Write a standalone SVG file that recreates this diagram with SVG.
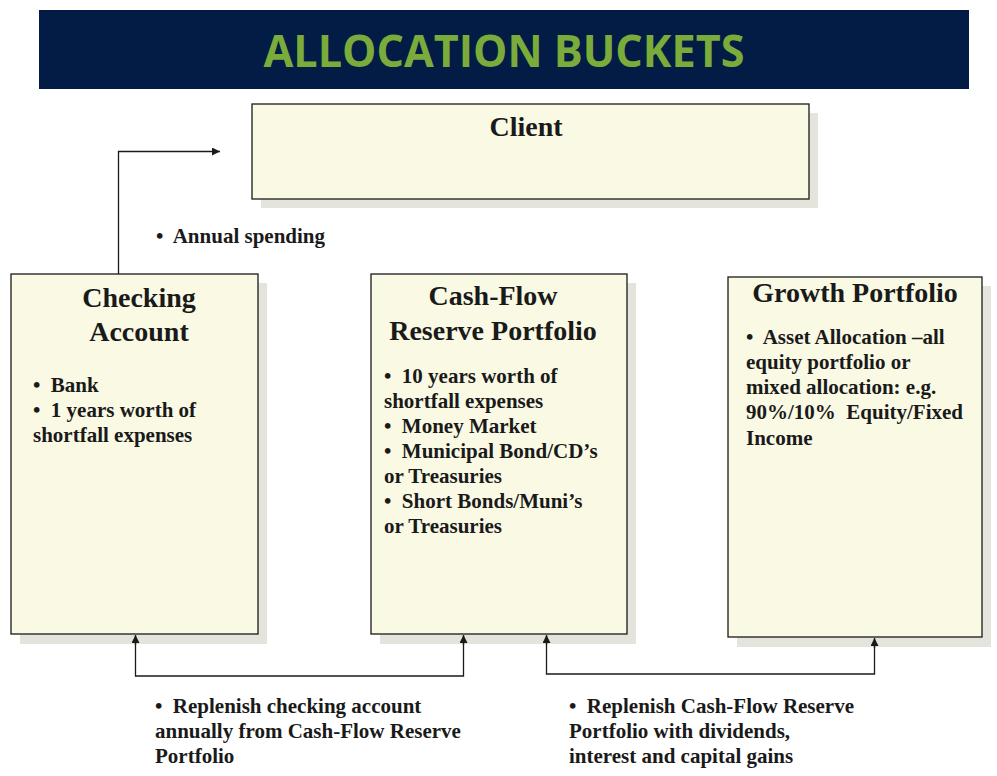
<svg xmlns="http://www.w3.org/2000/svg" width="997" height="776" viewBox="0 0 997 776">
<defs>
<style>
.box{fill:#f9f9e4;stroke:#1a1a1a;stroke-width:1.3}
.shadow{fill:#e4e4dc}
.hd{font-family:"Liberation Serif","Times New Roman",serif;font-weight:bold;font-size:28px;fill:#1a1a1a;text-anchor:middle}
.tx{font-family:"Liberation Serif","Times New Roman",serif;font-weight:bold;font-size:21px;fill:#1a1a1a;white-space:pre}
.ln{fill:none;stroke:#1a1a1a;stroke-width:1.3}
</style>
<marker id="ah" viewBox="0 0 10 10" refX="10" refY="5" markerWidth="8" markerHeight="8" markerUnits="userSpaceOnUse" orient="auto">
<path d="M0,0 L10,5 L0,10 Z" fill="#1a1a1a"/>
</marker>
</defs>
<rect width="997" height="776" fill="#ffffff"/>
<g id="title">
<rect x="39" y="10" width="930" height="79" fill="#021c45"/>
<text x="504" y="67" font-family="'Open Sans','Liberation Sans',sans-serif" font-weight="bold" font-size="44" fill="#7aab3b" text-anchor="middle" textLength="481" lengthAdjust="spacingAndGlyphs">ALLOCATION BUCKETS</text>
</g>
<g id="client">
<rect class="shadow" x="261" y="113" width="557" height="95"/>
<rect class="box" x="252" y="104" width="557" height="95"/>
<text class="hd" x="526" y="136">Client</text>
</g>
<g id="checking">
<rect class="shadow" x="20" y="283" width="247" height="361"/>
<rect class="box" x="11" y="274" width="247" height="360"/>
<text class="hd" x="139" y="307">Checking</text>
<text class="hd" x="139" y="341">Account</text>
<text class="tx" x="33" y="392" xml:space="preserve">•  Bank</text>
<text class="tx" x="33" y="417" xml:space="preserve">•  1 years worth of</text>
<text class="tx" x="33" y="442">shortfall expenses</text>
</g>
<g id="cashflow">
<rect class="shadow" x="380" y="283" width="256" height="361"/>
<rect class="box" x="371" y="274" width="256" height="360"/>
<text class="hd" x="493" y="305">Cash-Flow</text>
<text class="hd" x="493" y="340">Reserve Portfolio</text>
<text class="tx" x="384" y="383" xml:space="preserve">•  10 years worth of</text>
<text class="tx" x="384" y="408">shortfall expenses</text>
<text class="tx" x="384" y="433" xml:space="preserve">•  Money Market</text>
<text class="tx" x="384" y="458" xml:space="preserve">•  Municipal Bond/CD’s</text>
<text class="tx" x="384" y="483">or Treasuries</text>
<text class="tx" x="384" y="508" xml:space="preserve">•  Short Bonds/Muni’s</text>
<text class="tx" x="384" y="533">or Treasuries</text>
</g>
<g id="growth">
<rect class="shadow" x="737" y="286" width="254" height="361"/>
<rect class="box" x="728" y="277" width="254" height="360"/>
<text class="hd" x="855" y="302">Growth Portfolio</text>
<text class="tx" x="746" y="344" xml:space="preserve">•  Asset Allocation –all</text>
<text class="tx" x="746" y="369">equity portfolio or</text>
<text class="tx" x="746" y="394">mixed allocation: e.g.</text>
<text class="tx" x="746" y="419" xml:space="preserve">90%/10%  Equity/Fixed</text>
<text class="tx" x="746" y="445">Income</text>
</g>
<g id="connectors">
<path class="ln" d="M118.5,274 V151.5 H220" marker-end="url(#ah)"/>
<path class="ln" d="M463.5,636 V676 H135.5 V636"/>
<path class="ln" d="M135.5,645 V635" marker-end="url(#ah)"/>
<path class="ln" d="M463.5,645 V635" marker-end="url(#ah)"/>
<path class="ln" d="M874.5,639 V674 H546.5 V636"/>
<path class="ln" d="M546.5,645 V635" marker-end="url(#ah)"/>
<path class="ln" d="M874.5,648 V638" marker-end="url(#ah)"/>
</g>
<g id="labels">
<text class="tx" x="156" y="243" xml:space="preserve">•  Annual spending</text>
<text class="tx" x="155" y="713" xml:space="preserve">•  Replenish checking account</text>
<text class="tx" x="155" y="738">annually from Cash-Flow Reserve</text>
<text class="tx" x="155" y="763">Portfolio</text>
<text class="tx" x="569" y="713" xml:space="preserve">•  Replenish Cash-Flow Reserve</text>
<text class="tx" x="569" y="738">Portfolio with dividends,</text>
<text class="tx" x="569" y="763">interest and capital gains</text>
</g>
</svg>
